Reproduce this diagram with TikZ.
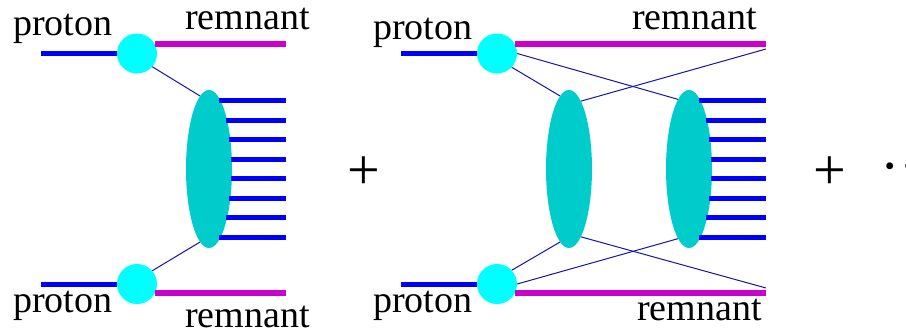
\documentclass[tikz,border=0pt]{standalone}
\usepackage{fontspec}
\setmainfont{Liberation Serif}
\usetikzlibrary{shapes.geometric,calc}
\definecolor{vtxcyan}{RGB}{0,255,255}
\definecolor{blobcyan}{RGB}{0,204,204}
\definecolor{remmag}{RGB}{204,0,204}
\definecolor{exchblue}{RGB}{20,20,170}

\begin{document}
\begin{tikzpicture}[x=1pt,y=-1pt,
  vertex/.style={circle,fill=vtxcyan,inner sep=0pt,minimum size=40pt},
  blob/.style={ellipse,fill=blobcyan,inner sep=0pt,minimum width=46pt,minimum height=158pt},
  beam/.style={blue,line width=5pt},
  remn/.style={remmag,line width=6pt},
  hadron/.style={blue,line width=5pt},
  exch/.style={exchblue,line width=1pt},
  lbl/.style={font=\fontsize{38}{40}\selectfont,inner sep=0pt,anchor=base west},
  sumsign/.style={font=\fontsize{58}{60}\selectfont,inner sep=0pt}]
  \useasboundingbox (0,0) rectangle (906,335);
  % single exchange
  \node[vertex] (pa) at (137,53.5) {};
  \node[vertex] (pb) at (137,284) {};
  \node[blob] (x) at (209,169) {};
  \coordinate (ina) at (41,53.5); \coordinate (inb) at (41,284);
  \coordinate (enda) at (286,0);
  \draw[beam] (ina) -- (pa.west);
  \draw[beam] (inb) -- (pb.west);
  \draw[remn] (pa.28) -- (pa.28 -| enda);
  \draw[remn] (pb.-28) -- (pb.-28 -| enda);
  \draw[exch] (pa.-41) -- (x.97);
  \draw[exch] (pb.41) -- (x.-97);
  \node[lbl] (pa-lbl) at (13,35) {proton};
  \node[lbl] (ra-lbl) at (185,29) {remnant};
  \node[lbl] (pb-lbl) at (13,312) {proton};
  \node[lbl] (rb-lbl) at (185,327) {remnant};
  \node[sumsign] (plus1) at (364,173) {+};
  % double exchange
  \node[vertex] (pc) at (497,53.5) {};
  \node[vertex] (pd) at (497,284) {};
  \node[blob] (y) at (569,169) {};
  \node[blob] (z) at (689,169) {};
  \coordinate (inc) at (401,53.5); \coordinate (ind) at (401,284);
  \coordinate (endb) at (766,0);
  \coordinate (outc) at (766,49); \coordinate (outd) at (766,288);
  \draw[beam] (inc) -- (pc.west);
  \draw[beam] (ind) -- (pd.west);
  \draw[remn] (pc.28) -- (pc.28 -| endb);
  \draw[remn] (pd.-28) -- (pd.-28 -| endb);
  \draw[exch] (pc.-43) -- (y.97);
  \draw[exch] (pc.0) -- (z.99);
  \draw[exch] (y.80) -- (outc);
  \draw[exch] (pd.43) -- (y.-97);
  \draw[exch] (pd.0) -- (z.-99);
  \draw[exch] (y.-80) -- (outd);
  \node[lbl] (pc-lbl) at (373,39) {proton};
  \node[lbl] (rc-lbl) at (632,29) {remnant};
  \node[lbl] (pd-lbl) at (373,312) {proton};
  \node[lbl] (rd-lbl) at (637,320) {remnant};
  \node[sumsign] (plus2) at (829.5,173) {+};
  \node[sumsign,anchor=base west] (dots) at (880,185) {···};
  % outgoing hadrons
  \foreach \b/\e in {x/enda,z/endb}
    \foreach \i in {0,...,7} {
      \pgfmathsetmacro\dy{68.5-19.57*\i}
      \pgfmathsetmacro\dx{23*sqrt(1-(\dy/79)^2)-1}
      \coordinate (h) at ([shift={(\dx pt,\dy pt)}]\b.center);
      \draw[hadron] (h) -- (h -| \e);
    }
\end{tikzpicture}
\end{document}
